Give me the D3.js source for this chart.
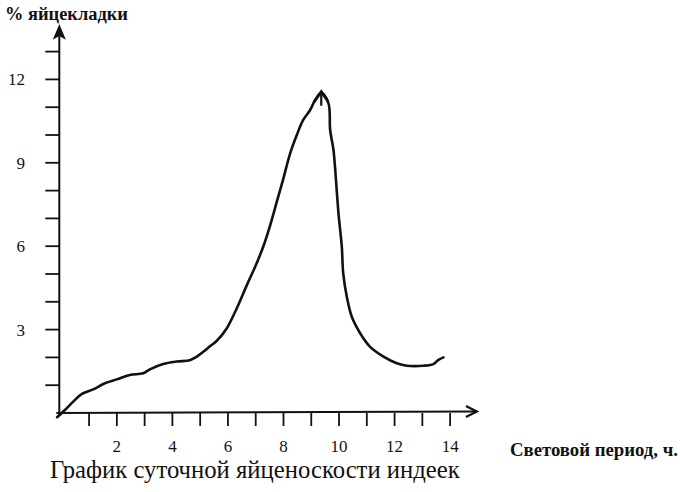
<!DOCTYPE html>
<html><head><meta charset="utf-8">
<script src="https://cdn.jsdelivr.net/npm/d3@7"></script>
<style>
html,body{margin:0;padding:0;background:#fff;}
svg{display:block;}
</style></head>
<body>
<svg id="c" width="680" height="492"></svg>
<script>
// Data
const hours = [-0.15,0.13,0.43,0.73,1.15,1.57,2.0,2.47,2.95,3.19,3.67,4.16,4.63,4.88,5.11,5.35,5.6,5.96,6.32,6.68,6.98,7.27,7.52,7.76,8.0,8.24,8.48,8.71,8.96,9.14,9.36,9.62,9.68,9.8,9.89,9.98,10.1,10.15,10.28,10.46,10.76,11.12,11.6,12.08,12.44,13.04,13.4,13.58,13.76];
const eggPct = [-0.15,0.11,0.41,0.68,0.85,1.07,1.21,1.37,1.43,1.57,1.76,1.85,1.9,2.03,2.2,2.4,2.6,3.05,3.77,4.6,5.26,5.98,6.75,7.6,8.45,9.34,10.0,10.54,10.9,11.26,11.52,11.14,10.18,9.46,8.38,7.18,5.98,5.03,4.18,3.46,2.87,2.38,2.03,1.79,1.7,1.7,1.76,1.91,2.0];
const xTickValues = [1,2,3,4,5,6,7,8,9,10,11,12,13,14];
const xTickLabels = [2,4,6,8,10,12,14];
const yTickValues = [1,2,3,4,5,6,7,8,9,10,11,12,13];
const yTickLabels = [3,6,9,12];
const yTitle = "% яйцекладки";
const xTitle = "Световой период, ч.";
const caption = "График суточной яйценоскости индеек";

const FONT = "'Liberation Serif', 'Times New Roman', Times, 'DejaVu Serif', serif";
const svg = d3.select("#c").attr("font-family", FONT);
const x = d3.scaleLinear().domain([0,15]).range([61.3, 477.9]);
const y = d3.scaleLinear().domain([0,14]).range([413, 23.8]);
const x0 = x(0)-2, y0 = y(0);

function fitWidth(sel, w){
  const n = sel.node(); const fs = +sel.attr("font-size");
  const len = n.getComputedTextLength();
  if (len > 0) sel.attr("font-size", fs * w / len);
}

// X axis
const gx = svg.append("g");
gx.append("line").attr("x1", x0-3).attr("y1", y0).attr("x2", x(15)-1).attr("y2", y0-1.5)
  .attr("stroke","#111").attr("stroke-width",2);
gx.append("path").attr("d", `M${x(15)-12},${y0-7} L${x(15)-1},${y0-1.5} L${x(15)-12},${y0+4}`)
  .attr("fill","none").attr("stroke","#111").attr("stroke-width",2.2);
gx.selectAll("line.t").data(xTickValues).join("line").attr("class","t")
  .attr("x1", d=>x(d)).attr("x2", d=>x(d)).attr("y1", y0).attr("y2", y0+13)
  .attr("stroke","#111").attr("stroke-width",1.8);
gx.selectAll("text.l").data(xTickLabels).join("text").attr("class","l")
  .attr("x", d=>x(d)).attr("y", 452).attr("text-anchor","middle")
  .attr("font-size",17).attr("fill","#111").text(d=>d);

// Y axis
const gy = svg.append("g");
gy.append("line").attr("x1", x0).attr("y1", y0+3).attr("x2", x0).attr("y2", 30)
  .attr("stroke","#111").attr("stroke-width",2);
gy.append("path").attr("d", `M${x0},26 L${x0-5},38 L${x0},35 L${x0+5},38 Z`)
  .attr("fill","#111").attr("stroke","#111").attr("stroke-width",1.5);
gy.selectAll("line.t").data(yTickValues).join("line").attr("class","t")
  .attr("x1", x0-14).attr("x2", x0).attr("y1", d=>y(d)).attr("y2", d=>y(d))
  .attr("stroke","#111").attr("stroke-width",1.8);
gy.selectAll("text.l").data(yTickLabels).join("text").attr("class","l")
  .attr("x", 25).attr("y", d=>y(d)+6).attr("text-anchor","end")
  .attr("font-size",17).attr("fill","#111").text(d=>d);

// Titles
const t1 = svg.append("text").attr("x",5).attr("y",20).attr("font-size",15).attr("font-weight","bold").attr("fill","#111").text(yTitle);
fitWidth(t1, 123);
const t2 = svg.append("text").attr("x",510).attr("y",456).attr("font-size",14).attr("font-weight","bold").attr("fill","#111").text(xTitle);
fitWidth(t2, 168);
const t3 = svg.append("text").attr("x",50).attr("y",478).attr("font-size",20).attr("fill","#111").text(caption);
fitWidth(t3, 410);

// Curve
const pts = hours.map((h,i)=>[h, eggPct[i]]);
const line = d3.line().x(d=>x(d[0])).y(d=>y(d[1])).curve(d3.curveCatmullRom.alpha(0.5));
svg.append("path").attr("d", line(pts)).attr("fill","none").attr("stroke","#111")
  .attr("stroke-width",2.6).attr("stroke-linejoin","round").attr("stroke-linecap","round");
// peak arrow mark
const iMax = d3.maxIndex(eggPct);
const px = x(hours[iMax]), py = y(eggPct[iMax]);
svg.append("path").attr("d", `M${px-7},${py+9} L${px},${py-1} L${px+7},${py+9}`)
  .attr("fill","none").attr("stroke","#111").attr("stroke-width",2.8).attr("stroke-linejoin","miter");
svg.append("line").attr("x1",px).attr("x2",px).attr("y1",py).attr("y2",py+13)
  .attr("stroke","#111").attr("stroke-width",2.2);
</script>
</body></html>
